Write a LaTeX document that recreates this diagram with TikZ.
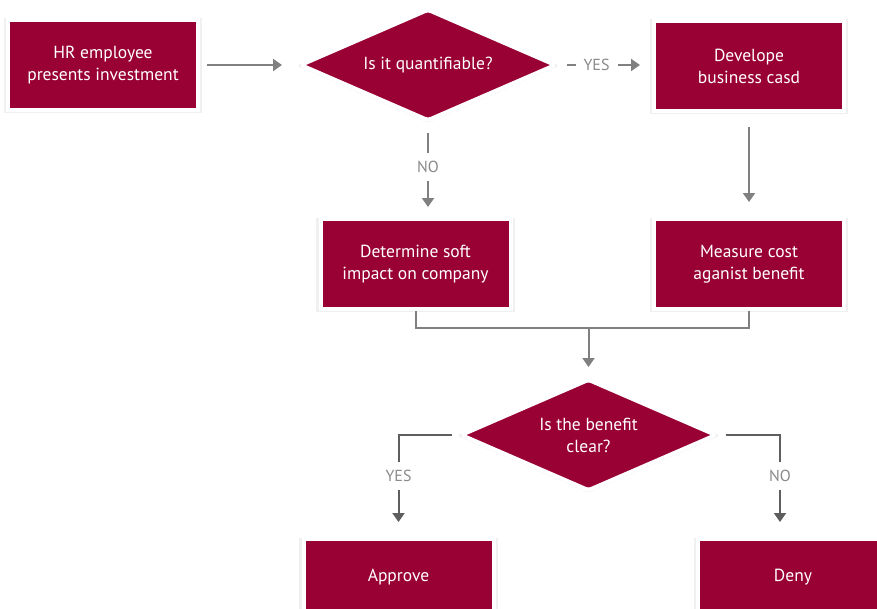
\documentclass[tikz,border=0pt]{standalone}
\usepackage{fontspec}
\setmainfont{PT Sans}
\usetikzlibrary{shapes.geometric,arrows.meta,shadows}
\definecolor{hrred}{HTML}{990033}
\definecolor{linkgray}{HTML}{808080}
\definecolor{linkdark}{HTML}{5E5E5E}
\definecolor{taggray}{HTML}{8A8A8A}

\begin{document}
\begin{tikzpicture}[x=1pt,y=-1pt,>={Triangle[width=12pt,length=9pt]},
  stepbox/.style={rectangle, draw=white, line width=4pt, fill=hrred, text=white,
    minimum width=190pt, minimum height=90pt, align=center,
    font=\fontsize{17.5}{22}\selectfont,
    drop shadow={opacity=.12, shadow xshift=0pt, shadow yshift=-.5pt, shadow scale=1.045}},
  query/.style={diamond, aspect=2.3, draw=white, line width=4pt, line join=round,
    rounded corners=3pt, fill=hrred, text=white, inner sep=0pt,
    minimum width=256pt, minimum height=112pt, align=center,
    font=\fontsize{17.5}{22}\selectfont,
    drop shadow={opacity=.12, shadow xshift=0pt, shadow yshift=-.5pt, shadow scale=1.035}},
  link/.style={draw=linkgray, line width=2pt},
  tag/.style={fill=white, text=taggray, inner xsep=8pt, inner ysep=8pt,
    font=\fontsize{16}{18}\selectfont}]
\useasboundingbox (0,0) rectangle (877,608);
\clip (0,0) rectangle (877,608);

% steps and questions
\node[stepbox] (hr) at (103,65) {HR employee\\presents investment};
\node[query] (quant) at (428,65) {Is it quantifiable?};
\node[stepbox] (biz) at (749,66) {Develope\\business casd};
\node[stepbox] (soft) at (415.5,264) {Determine soft\\impact on company};
\node[stepbox] (cost) at (749,264) {Measure cost\\aganist benefit};
\node[query] (clear) at (588.5,435) {Is the benefit\\clear?};
\node[stepbox,minimum height=76pt] (approve) at (398.5,577) {Approve};
\node[stepbox,minimum height=76pt] (deny) at (793,577) {Deny};

\coordinate (merge) at (588.5,328);
\coordinate (noturn) at (780,435);

% connectors
\draw[link,->,shorten <=7pt,shorten >=16pt] (hr) -- (quant);
\draw[link,->,shorten <=9pt,shorten >=12pt] (quant.east) -- (biz.west |- quant.east)
  node[tag,pos=.41] {YES};
\draw[link,->,shorten <=10pt,shorten >=10pt] (quant.south) -- (quant.south |- soft.north)
  node[tag,pos=.47] {NO};
\draw[link,->,shorten <=14pt,shorten >=15pt] (biz) -- (cost);
\draw[link] (soft.south) |- (merge) -| (cost.south);
\draw[link,->,shorten >=10pt] (merge) -- (clear.north);
\draw[link,draw=linkdark,->,shorten <=7pt,shorten >=15pt] (clear.west) -| (approve.north)
  node[tag,pos=.7] {YES};
\draw[link,draw=linkdark,->,shorten <=7pt,shorten >=15pt] (clear.east) -- (noturn)
  -- (noturn |- deny.north) node[tag,pos=.4] {NO};
\end{tikzpicture}
\end{document}
